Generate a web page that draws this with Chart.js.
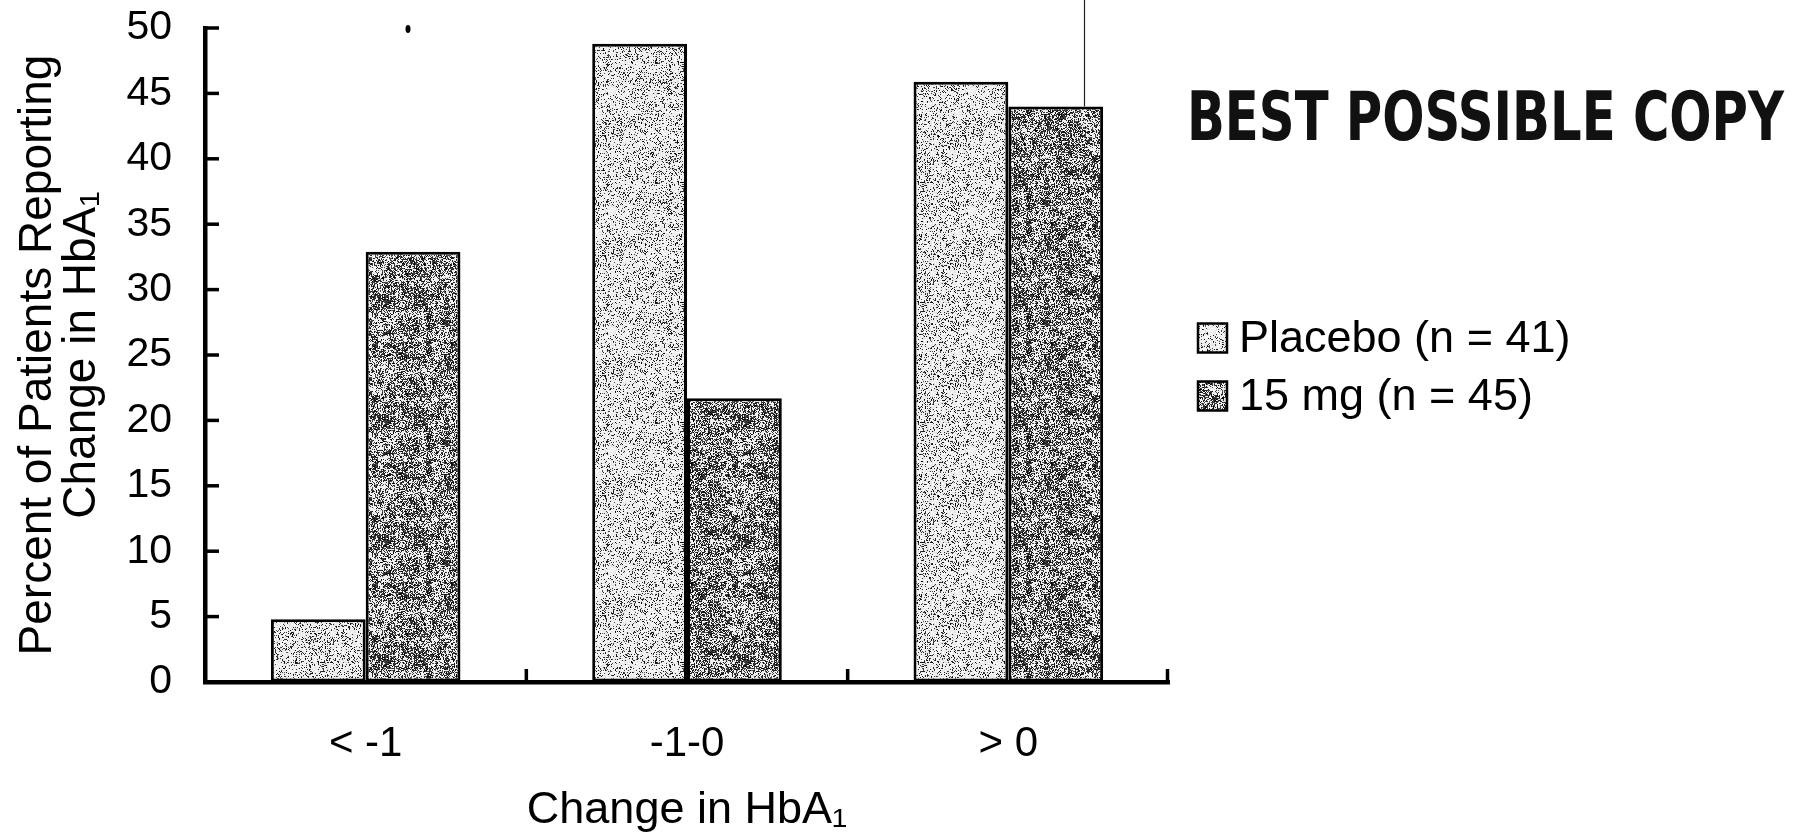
<!DOCTYPE html>
<html>
<head>
<meta charset="utf-8">
<script src="https://cdn.jsdelivr.net/npm/chart.js@4.4.1/dist/chart.umd.min.js"></script>
<style>
  html, body { margin: 0; padding: 0; background: #ffffff; }
  #wrap { width: 1794px; height: 833px; position: relative; }
</style>
</head>
<body>
<div id="wrap"><canvas id="chart" width="1794" height="833"></canvas></div>
<script>
// Categories: change in HbA1 (percentage points)
const categories = ['< -1', '-1-0', '> 0'];
// Percent of patients in each category
const placeboValues = [4.8, 48.8, 45.9];
const mg15Values = [32.9, 21.7, 44.0];
const seriesLabels = ['Placebo (n = 41)', '15 mg (n = 45)'];
const yTickValues = [0, 5, 10, 15, 20, 25, 30, 35, 40, 45, 50];
const yTitleLines = ['Percent of Patients Reporting', 'Change in HbA\u2081'];
const xTitle = 'Change in HbA\u2081';
const stampText = 'BEST POSSIBLE COPY';

const FONT = "'Liberation Sans', Arial, Helvetica, sans-serif";

// Deterministic generator for the stipple texture of the bars
function mulberry32(a) {
  return function () {
    a |= 0; a = a + 0x6D2B79F5 | 0;
    let t = Math.imul(a ^ a >>> 15, 1 | a);
    t = t + Math.imul(t ^ t >>> 7, 61 | t) ^ t;
    return ((t ^ t >>> 14) >>> 0) / 4294967296;
  };
}

// Halftone-like stipple: fine dots modulated by coarse blotches
function stipple(seed, density, blotch) {
  const size = 120;
  const c = document.createElement('canvas');
  c.width = size; c.height = size;
  const g = c.getContext('2d');
  const img = g.createImageData(size, size);
  const rnd = mulberry32(seed);
  const cell = 6;
  const n = size / cell;
  const coarse = [];
  for (let i = 0; i < n * n; i++) coarse.push(rnd());
  const colBias = [];
  for (let x = 0; x < size; x++) colBias.push(rnd());
  for (let y = 0; y < size; y++) {
    for (let x = 0; x < size; x++) {
      const cx = Math.floor(x / cell), cy = Math.floor(y / cell);
      const cv = coarse[(cy % n) * n + (cx % n)];
      const p = density + blotch * (cv - 0.5) + 0.08 * (colBias[x] - 0.5);
      const dark = rnd() < p;
      const v = dark ? Math.floor(rnd() * 90) : 225 + Math.floor(rnd() * 30);
      const k = (y * size + x) * 4;
      img.data[k] = v; img.data[k + 1] = v; img.data[k + 2] = v; img.data[k + 3] = 255;
    }
  }
  g.putImageData(img, 0, 0);
  return g.createPattern(c, 'repeat');
}

const ctx0 = document.getElementById('chart').getContext('2d');
const placeboFill = stipple(11, 0.20, 0.18);
const mg15Fill = stipple(29, 0.53, 0.45);
const fills = [placeboFill, mg15Fill];

// Inward tick marks, legend, stamp and scan marks
const decorations = {
  id: 'decorations',
  afterDraw(chart) {
    const ctx = chart.ctx;
    const area = chart.chartArea;
    const ys = chart.scales.y;
    const xs = chart.scales.x;
    ctx.save();
    ctx.strokeStyle = '#000';
    ctx.lineCap = 'butt';

    // y ticks pointing into the plot
    ctx.lineWidth = 3.5;
    yTickValues.forEach(v => {
      if (v === 0) return;
      const py = ys.getPixelForValue(v);
      ctx.beginPath();
      ctx.moveTo(area.left, py);
      ctx.lineTo(area.left + 14, py);
      ctx.stroke();
    });

    // x ticks at the right edge of each category, pointing up
    const half = (xs.getPixelForValue(1) - xs.getPixelForValue(0)) / 2;
    categories.forEach((c, i) => {
      const px = Math.min(xs.getPixelForValue(i) + half, area.right - 1.5);
      ctx.beginPath();
      ctx.moveTo(px, area.bottom);
      ctx.lineTo(px, area.bottom - 13);
      ctx.stroke();
    });

    // legend
    const lx = 1198, box = 29;
    const rows = [338, 396];
    ctx.font = '45px ' + FONT;
    ctx.textBaseline = 'middle';
    ctx.textAlign = 'left';
    seriesLabels.forEach((lab, i) => {
      const cy = rows[i];
      ctx.fillStyle = fills[i];
      ctx.fillRect(lx, cy - box / 2, box, box);
      ctx.lineWidth = 2.5;
      ctx.strokeRect(lx, cy - box / 2, box, box);
      ctx.fillStyle = '#000';
      ctx.fillText(lab, lx + 41, cy + 2);
    });

    // stamp
    ctx.font = "bold 68px 'Liberation Sans Narrow', 'DejaVu Sans Condensed', 'Liberation Sans', sans-serif";
    ctx.textBaseline = 'alphabetic';
    const w = ctx.measureText(stampText).width;
    const target = 597;
    ctx.save();
    ctx.translate(1187, 140);
    ctx.scale(target / w, 1);
    ctx.fillStyle = '#111';
    ctx.fillText(stampText, 0, 0);
    ctx.restore();

    // scan marks
    const meta = chart.getDatasetMeta(1);
    const lineEnd = meta.data[2].y;
    ctx.lineWidth = 1.2;
    ctx.strokeStyle = '#222';
    ctx.beginPath();
    ctx.moveTo(1084.5, 0);
    ctx.lineTo(1084.5, lineEnd);
    ctx.stroke();
    ctx.fillStyle = '#000';
    ctx.beginPath();
    ctx.ellipse(408, 29, 2.5, 4, 0, 0, Math.PI * 2);
    ctx.fill();
    ctx.restore();
  }
};

Chart.defaults.font.family = FONT;
Chart.defaults.color = '#000';

new Chart(ctx0, {
  type: 'bar',
  data: {
    labels: categories,
    datasets: [
      {
        label: seriesLabels[0],
        data: placeboValues,
        backgroundColor: placeboFill,
        borderColor: '#000',
        borderWidth: 3,
        borderSkipped: false,
        categoryPercentage: 0.59,
        barPercentage: 1.0
      },
      {
        label: seriesLabels[1],
        data: mg15Values,
        backgroundColor: mg15Fill,
        borderColor: '#000',
        borderWidth: 3,
        borderSkipped: false,
        categoryPercentage: 0.59,
        barPercentage: 1.0
      }
    ]
  },
  options: {
    responsive: false,
    animation: false,
    devicePixelRatio: 1,
    layout: { padding: { top: 28, right: 625, left: 0, bottom: 0 } },
    plugins: {
      legend: { display: false },
      tooltip: { enabled: false }
    },
    scales: {
      x: {
        grid: { display: true, drawOnChartArea: false, drawTicks: false },
        border: { display: true, color: '#000', width: 4.5 },
        ticks: { font: { size: 42 }, padding: 37, color: '#000' },
        title: {
          display: true,
          text: xTitle,
          font: { size: 45, lineHeight: 1.0 },
          padding: { top: 0, bottom: 0 },
          color: '#000'
        },
        afterFit(s) { s.height = 151; }
      },
      y: {
        min: 0,
        max: 50,
        grid: { display: true, drawOnChartArea: false, drawTicks: false },
        border: { display: true, color: '#000', width: 4.5 },
        afterBuildTicks(s) { s.ticks = yTickValues.map(v => ({ value: v })); },
        ticks: { font: { size: 41 }, padding: 33, color: '#000' },
        title: {
          display: true,
          text: yTitleLines,
          font: { size: 46, lineHeight: 0.96 },
          padding: { top: 16, bottom: 0 },
          color: '#000'
        },
        afterFit(s) {
          s.width = 205;
          s.paddingTop = 0;
          s.paddingBottom = 0;
        }
      }
    }
  },
  plugins: [decorations]
});
</script>
</body>
</html>
